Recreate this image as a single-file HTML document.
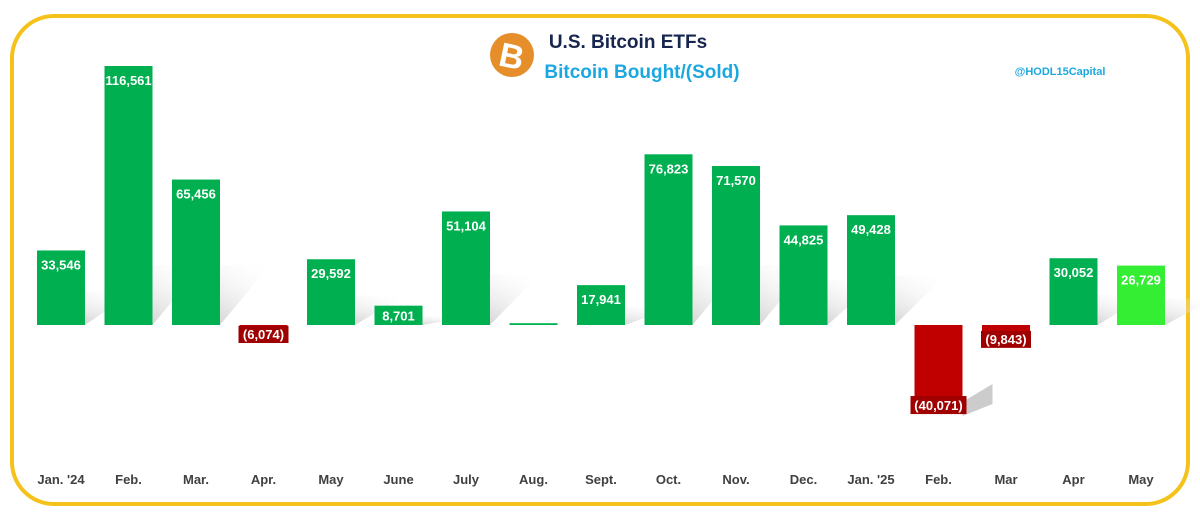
<!DOCTYPE html>
<html><head><meta charset="utf-8"><style>
html,body{margin:0;padding:0;background:#fff;width:1200px;height:518px;overflow:hidden}
svg text{font-family:"Liberation Sans",sans-serif}
</style></head><body>
<svg id="chart" width="1200" height="518" xmlns="http://www.w3.org/2000/svg">
<defs><linearGradient id="sh" x1="0" y1="1" x2="1" y2="0"><stop offset="0" stop-color="#b5b5b5"/><stop offset="1" stop-color="#fff" stop-opacity="0"/></linearGradient></defs>
<rect x="12" y="16" width="1176" height="488" rx="42" fill="#fff" stroke="#F5C21B" stroke-width="4"/>
<g><circle cx="512" cy="55" r="22" fill="#E58E2A"/><text x="512" y="68" text-anchor="middle" font-size="34" font-weight="bold" fill="#fff" transform="rotate(12 512 55)">B</text></g>
<text x="628" y="48" text-anchor="middle" font-size="19" font-weight="bold" fill="#17254F">U.S. Bitcoin ETFs</text>
<text x="642" y="78" text-anchor="middle" font-size="19" font-weight="bold" fill="#1BA8E0">Bitcoin Bought/(Sold)</text>
<text x="1060" y="75" text-anchor="middle" font-size="11" font-weight="bold" fill="#1BA8E0" font-family="Liberation Serif,serif">@HODL15Capital</text>
<g id="shadows"></g><g id="bars"></g><g id="labels"></g><g id="xaxis"></g>
</svg>
<script>
const categories=["Jan. '24","Feb.","Mar.","Apr.","May","June","July","Aug.","Sept.","Oct.","Nov.","Dec.","Jan. '25","Feb.","Mar","Apr","May"];
const values=[33546,116561,65456,-6074,29592,8701,51104,800,17941,76823,71570,44825,49428,-40071,-9843,30052,26729];
const valueLabels=["33,546","116,561","65,456","(6,074)","29,592","8,701","51,104","","17,941","76,823","71,570","44,825","49,428","(40,071)","(9,843)","30,052","26,729"];
const NS="http://www.w3.org/2000/svg";
const base=325, k=259/116561, x0=61, step=67.5, bw=48;
const xs=i=>x0+i*step, ys=v=>base-v*k;
function mk(t,a,p){const e=document.createElementNS(NS,t);for(const n in a)e.setAttribute(n,a[n]);p.appendChild(e);return e;}
const S=document.getElementById('shadows'),B=document.getElementById('bars'),L=document.getElementById('labels'),X=document.getElementById('xaxis');
values.forEach((v,i)=>{
  const cx=xs(i), l=cx-bw/2, y=ys(v);
  const top=Math.min(y,base), h=Math.max(Math.abs(base-y),1.5);
  if(v>2000){const sh=Math.min(h*0.45,60);
    const p=mk('polygon',{points:`${l},${base} ${l+bw},${base} ${l+bw+50},${base-sh} ${l+50},${base-sh}`,fill:'url(#sh)'},S);
    }
  if(v<-20000){const p=mk('polygon',{points:`${l+bw},${y-12} ${l+bw+30},${y-30} ${l+bw+30},${y-10} ${l+bw},${y+2}`,fill:'#ccc'},S);
    }
  const fill=v<0?'#C00000':(i===values.length-1?'#33EE33':'#00B050');
  const r=mk('rect',{x:l,y:top,width:bw,height:h,fill:fill},B);
  
  if(valueLabels[i]){
    let ty;
    if(v>=0){ ty = h>=28 ? y+19 : y+h/2+5; }
    else if(v>-20000){
      const by=base+Math.max(0,h-17)+1;
      ty=by+13;
      const bg=mk('rect',{x:cx-25,y:by,width:50,height:17,fill:'#A00000'},L);
      }
    else { ty=y-4;
      const bg=mk('rect',{x:cx-28,y:ty-14,width:56,height:18,fill:'#A00000'},L);
      }
    const txt=mk('text',{x:cx,y:ty,'text-anchor':'middle','font-size':13,'font-weight':'bold',fill:'#fff'},L);
    txt.textContent=valueLabels[i];
    
  }
  const c=mk('text',{x:cx,y:484,'text-anchor':'middle','font-size':13,'font-weight':'bold',fill:'#404040'},X);
  c.textContent=categories[i];
  
});
</script>
</body></html>
